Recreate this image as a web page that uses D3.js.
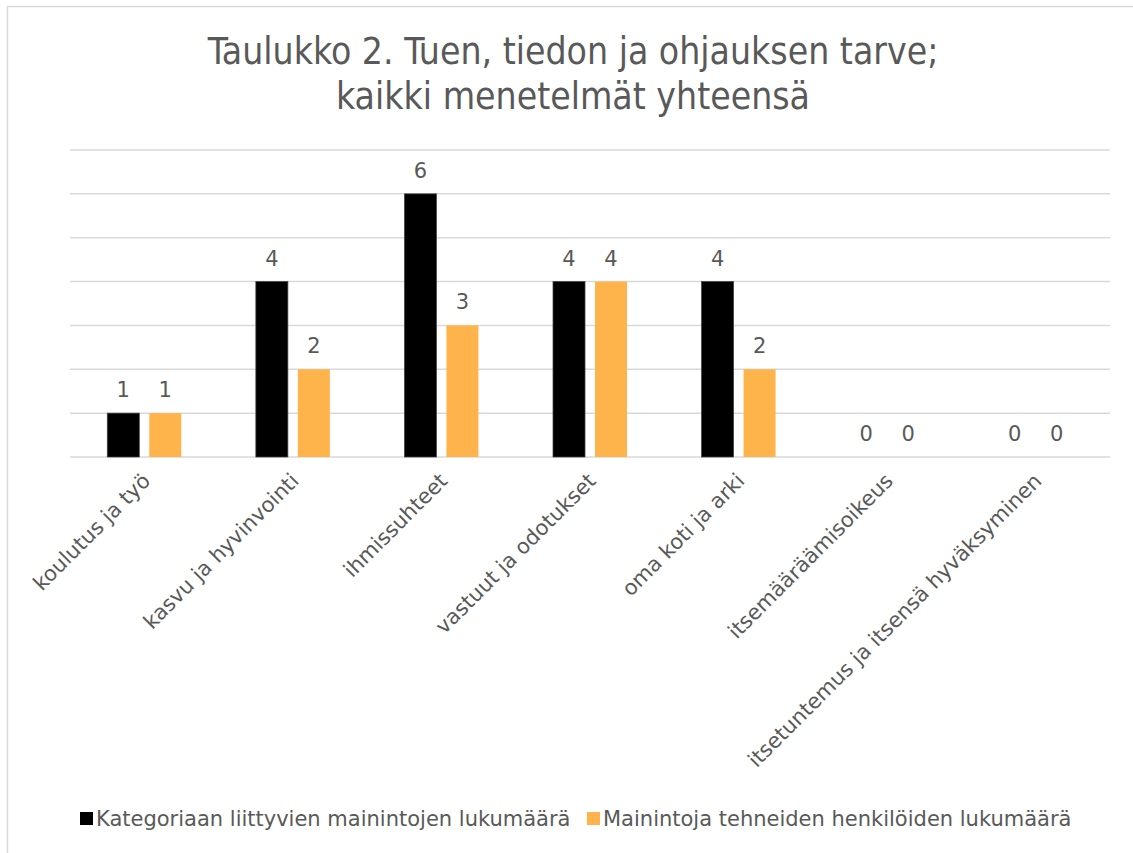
<!DOCTYPE html>
<html>
<head>
<meta charset="utf-8">
<script src="https://cdn.jsdelivr.net/npm/d3@7"></script>
<style>
  body { margin: 0; background: #fff; }
  text { font-family: "DejaVu Sans", sans-serif; fill: #595959; }
  .title { font-family: "DejaVu Sans Condensed", "DejaVu Sans", sans-serif; }
</style>
</head>
<body>
<div class="chart-container"></div>
<script>
var categories = ['koulutus ja työ', 'kasvu ja hyvinvointi', 'ihmissuhteet', 'vastuut ja odotukset',
                  'oma koti ja arki', 'itsemääräämisoikeus', 'itsetuntemus ja itsensä hyväksyminen'];
var seriesNames = ['Kategoriaan liittyvien mainintojen lukumäärä', 'Mainintoja tehneiden henkilöiden lukumäärä'];
var mentions = [1, 4, 6, 4, 4, 0, 0];
var persons = [1, 2, 3, 4, 2, 0, 0];
var yTicks = [0, 1, 2, 3, 4, 5, 6, 7];
var titleLines = ['Taulukko 2. Tuen, tiedon ja ohjauksen tarve;', 'kaikki menetelmät yhteensä'];

var colors = ['#000000', '#ffb44b'];
var W = 1133, H = 853;
var margin = {top: 150, right: 23, bottom: 396, left: 70},
    width = W - margin.left - margin.right,
    height = H - margin.top - margin.bottom;

var svg = d3.select('.chart-container').append('svg')
    .attr('width', W)
    .attr('height', H);

// chart border
svg.append('rect')
    .attr('x', 7.5).attr('y', 6.5)
    .attr('width', W).attr('height', H)
    .attr('fill', 'none')
    .attr('stroke', '#d9d9d9')
    .attr('stroke-width', 1.5);

// title
svg.append('text')
    .attr('class', 'title')
    .attr('text-anchor', 'middle')
    .style('font-size', '37px')
    .selectAll('tspan')
    .data(titleLines)
    .enter().append('tspan')
    .attr('x', 573)
    .attr('y', function(d, i) { return 64 + i * 45; })
    .text(function(d) { return d; });

var data = categories.map(function(c, i) {
    return {cat: c, values: [mentions[i], persons[i]]};
});

var x0 = d3.scaleBand().domain(categories).range([0, width]).paddingInner(0).paddingOuter(0);
var x1 = d3.scaleBand().domain([0, 1])
    .range([x0.bandwidth() / 2 - 37, x0.bandwidth() / 2 + 37])
    .paddingInner(0.238).paddingOuter(0);
var y = d3.scaleLinear().domain([0, 7]).range([height, 0]);

var g = svg.append('g')
    .attr('transform', 'translate(' + margin.left + ',' + margin.top + ')');

/// gridlines
g.append('g')
    .attr('class', 'grid')
    .selectAll('line')
    .data(yTicks)
    .enter().append('line')
    .attr('x1', 0).attr('x2', width)
    .attr('y1', function(d) { return y(d); })
    .attr('y2', function(d) { return y(d); })
    .style('stroke', '#d9d9d9')
    .style('stroke-width', 1.5);

/// bars
var group = g.selectAll('.group')
    .data(data)
    .enter().append('g')
    .attr('class', 'group')
    .attr('transform', function(d) { return 'translate(' + x0(d.cat) + ',0)'; });

group.selectAll('rect')
    .data(function(d) { return d.values.map(function(v, i) { return {i: i, v: v}; }); })
    .enter().append('rect')
    .attr('x', function(d) { return x1(d.i); })
    .attr('width', x1.bandwidth())
    .attr('y', function(d) { return y(d.v); })
    .attr('height', function(d) { return y(0) - y(d.v); })
    .style('fill', function(d) { return colors[d.i]; })
    .style('stroke', function(d) { return d.i === 0 ? '#404040' : 'none'; })
    .style('stroke-width', 0.75);

group.selectAll('.val')
    .data(function(d) { return d.values.map(function(v, i) { return {i: i, v: v}; }); })
    .enter().append('text')
    .attr('class', 'val')
    .attr('x', function(d) { return x1(d.i) + x1.bandwidth() / 2; })
    .attr('y', function(d) { return y(d.v) - 16; })
    .attr('text-anchor', 'middle')
    .style('font-size', '21px')
    .text(function(d) { return d.v; });

/// category labels
g.append('g')
    .attr('class', 'axis axis--x')
    .selectAll('text')
    .data(categories)
    .enter().append('text')
    .attr('transform', function(d) {
        return 'translate(' + (x0(d) + x0.bandwidth() / 2 + 2) + ',' + (height + 20) + ') rotate(-45)';
    })
    .attr('text-anchor', 'end')
    .attr('dy', '0.35em')
    .style('font-size', '21px')
    .text(function(d) { return d; });

/// legend
var legend = svg.append('g').attr('class', 'legend');
var legendX = [80, 587];
seriesNames.forEach(function(name, i) {
    legend.append('rect')
        .attr('x', legendX[i]).attr('y', 812)
        .attr('width', 13).attr('height', 13)
        .style('fill', colors[i]);
    legend.append('text')
        .attr('x', legendX[i] + 16).attr('y', 826)
        .style('font-size', '21px')
        .text(name);
});
</script>
</body>
</html>
